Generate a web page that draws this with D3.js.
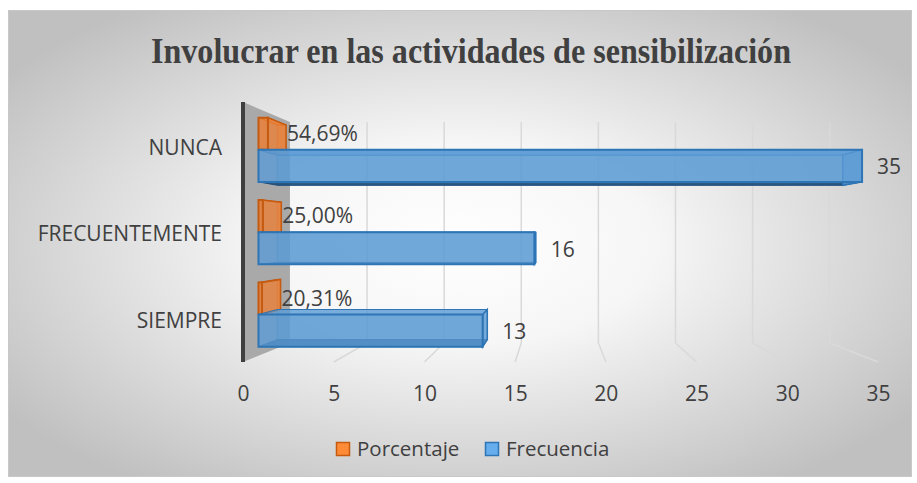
<!DOCTYPE html>
<html>
<head>
<meta charset="utf-8">
<script src="https://cdn.jsdelivr.net/npm/d3@7"></script>
<style>
  body { margin: 0; background: #fff; }
  text { font-family: "Open Sans", "Noto Sans", sans-serif; fill: #404040; }
</style>
</head>
<body>
<div id="chart"></div>
<script>
var width = 917;
var height = 483;

// data, top to bottom as in the chart
var categories = ["NUNCA", "FRECUENTEMENTE", "SIEMPRE"];
var series = ["Porcentaje", "Frecuencia"];
var porcentaje = [54.69, 25.00, 20.31];
var frecuencia = [35, 16, 13];
var tickValues = [0, 5, 10, 15, 20, 25, 30, 35];

var colors = {
    "Porcentaje": { fill: "#ED7D31", stroke: "#C55A11", dark: "#A5480E" },
    "Frecuencia": { fill: "#5B9BD5", stroke: "#2E75B6", dark: "#1F4E79" }
};

// 3d-ish perspective: everything is laid out in the front plane,
// then pushed back towards the vanishing point by depth d (0 front, 1 back)
var vp = [556, 235];
var shrink = 0.15;
function proj(x, y, d) {
    var s = 1 - shrink * d;
    return [vp[0] + s * (x - vp[0]), vp[1] + s * (y - vp[1])];
}
var barFront = 0.33, barBack = 0.73;

var xScale = d3.scaleLinear().domain([0, 35]).range([243, 878]);
var yScale = d3.scaleBand().domain(categories).range([102, 362])
    .paddingInner(0.22).paddingOuter(0.11);
var sScale = d3.scaleBand().domain(series).range([0, yScale.bandwidth()]);

var svg = d3.select("#chart").append("svg")
    .attr("width", width)
    .attr("height", height);

var defs = svg.append("defs");
var grad = defs.append("radialGradient")
    .attr("id", "bg")
    .attr("cx", "0.5").attr("cy", "0.5").attr("r", "0.62");
grad.append("stop").attr("offset", "0").attr("stop-color", "#ffffff");
grad.append("stop").attr("offset", "0.35").attr("stop-color", "#f6f6f6");
grad.append("stop").attr("offset", "1").attr("stop-color", "#c0c0c0");

svg.append("rect")
    .attr("x", 8.5).attr("y", 10.5)
    .attr("width", 903).attr("height", 466)
    .attr("fill", "url(#bg)")
    .attr("stroke", "#c8c8c8");

// title
svg.append("text")
    .attr("x", 471)
    .attr("y", 63)
    .attr("text-anchor", "middle")
    .attr("textLength", 640)
    .attr("lengthAdjust", "spacingAndGlyphs")
    .style("font-family", "'Liberation Serif', 'DejaVu Serif', serif")
    .style("font-weight", "bold")
    .style("font-size", "36px")
    .text("Involucrar en las actividades de sensibilización");

var line = d3.line();
var plot = svg.append("g");

var yTop = yScale.range()[0], yBottom = yScale.range()[1];

// side wall at value 0
plot.append("path")
    .attr("d", line([proj(xScale(0), yTop, 0), proj(xScale(0), yTop, 1),
                     proj(xScale(0), yBottom, 1), proj(xScale(0), yBottom, 0)]) + "Z")
    .attr("fill", "#a9a9a9");

// gridlines: up the back wall and across the floor
tickValues.slice(1).forEach(function(v) {
    plot.append("path")
        .attr("d", line([proj(xScale(v), yTop, 1), proj(xScale(v), yBottom, 1),
                         proj(xScale(v), yBottom, 0)]))
        .attr("fill", "none")
        .attr("stroke", "#d9d9d9")
        .attr("stroke-width", 1.5);
});

// front edge of the wall
plot.append("path")
    .attr("d", line([proj(xScale(0), yTop, 0), proj(xScale(0), yBottom, 0)]))
    .attr("stroke", "#3f3f3f")
    .attr("stroke-width", 4);

// bars
var bars = [];
categories.forEach(function(c, i) {
    bars.push({ cat: c, serie: "Porcentaje", value: porcentaje[i] / 100,
                label: porcentaje[i].toFixed(2).replace(".", ",") + "%" });
    bars.push({ cat: c, serie: "Frecuencia", value: frecuencia[i], label: String(frecuencia[i]) });
});

function box(d) {
    var x0 = xScale(0), x1 = xScale(d.value);
    var y0 = yScale(d.cat) + sScale(d.serie);
    var y1 = y0 + sScale.bandwidth();
    var f = barFront, b = barBack;
    return {
        back:   [proj(x0, y0, b), proj(x1, y0, b), proj(x1, y1, b), proj(x0, y1, b)],
        top:    [proj(x0, y0, f), proj(x1, y0, f), proj(x1, y0, b), proj(x0, y0, b)],
        bottom: [proj(x0, y1, f), proj(x1, y1, f), proj(x1, y1, b), proj(x0, y1, b)],
        end:    [proj(x1, y0, f), proj(x1, y1, f), proj(x1, y1, b), proj(x1, y0, b)],
        front:  [proj(x0, y0, f), proj(x1, y0, f), proj(x1, y1, f), proj(x0, y1, f)]
    };
}

var barG = plot.selectAll("g.bar")
    .data(bars)
    .enter()
    .append("g")
    .attr("class", "bar");

barG.each(function(d) {
    var g = d3.select(this);
    var bx = box(d);
    var col = colors[d.serie];
    g.append("path").attr("d", line(bx.back) + "Z")
        .attr("fill", col.fill).attr("fill-opacity", 0.35)
        .attr("stroke", col.stroke).attr("stroke-opacity", 0.5).attr("stroke-width", 1);
    g.append("path").attr("d", line(bx.top) + "Z")
        .attr("fill", col.fill).attr("fill-opacity", 0.7)
        .attr("stroke", col.stroke).attr("stroke-width", 1);
    g.append("path").attr("d", line(bx.bottom) + "Z")
        .attr("fill", col.dark).attr("fill-opacity", 0.9)
        .attr("stroke", col.dark).attr("stroke-width", 1);
    g.append("path").attr("d", line(bx.end) + "Z")
        .attr("fill", col.fill).attr("fill-opacity", 0.75)
        .attr("stroke", col.stroke).attr("stroke-width", 1.5);
    g.append("path").attr("d", line(bx.front) + "Z")
        .attr("fill", col.fill).attr("fill-opacity", 0.8)
        .attr("stroke", col.stroke).attr("stroke-width", 2);
});

// data labels
barG.append("text")
    .attr("x", function(d) {
        var bx = box(d);
        var endX = Math.max(bx.end[0][0], bx.end[3][0]);
        return endX + (d.serie == "Porcentaje" ? 1 : 15);
    })
    .attr("y", function(d) {
        var bx = box(d);
        return (bx.front[0][1] + bx.front[2][1]) / 2 + (d.serie == "Porcentaje" ? 0 : 1);
    })
    .attr("dy", "0.35em")
    .style("font-size", "21px")
    .text(function(d) { return d.label; });

// category labels
svg.selectAll("text.cat")
    .data(categories)
    .enter()
    .append("text")
    .attr("class", "cat")
    .attr("x", 222)
    .attr("y", function(c) { return yScale(c) + yScale.bandwidth() / 2 + 2; })
    .attr("dy", "0.35em")
    .attr("text-anchor", "end")
    .style("font-size", "21px")
    .text(function(c) { return c; });

// value axis along the front floor edge
var xAxis = d3.axisBottom(xScale)
    .tickValues(tickValues)
    .tickSize(0)
    .tickPadding(8);
var axisG = svg.append("g")
    .attr("transform", "translate(0, 378)")
    .call(xAxis);
axisG.select(".domain").remove();
axisG.selectAll("text")
    .style("font-family", "'Open Sans', sans-serif")
    .style("font-size", "21px")
    .attr("fill", "#404040");

// legend
var legendG = svg.append("g").attr("transform", "translate(336, 442)");
var legendX = { "Porcentaje": 0, "Frecuencia": 149 };
var item = legendG.selectAll("g")
    .data(series)
    .enter()
    .append("g")
    .attr("transform", function(s) { return "translate(" + legendX[s] + ",0)"; });
item.append("rect")
    .attr("x", 0.5).attr("y", 0.5)
    .attr("width", 13).attr("height", 13)
    .attr("fill", function(s) { return d3.color(colors[s].fill).brighter(0.3); })
    .attr("stroke", function(s) { return colors[s].stroke; })
    .attr("stroke-width", 1.5);
item.append("text")
    .attr("x", 21)
    .attr("y", 7)
    .attr("dy", "0.35em")
    .style("font-size", "20.5px")
    .text(function(s) { return s; });
</script>
</body>
</html>
